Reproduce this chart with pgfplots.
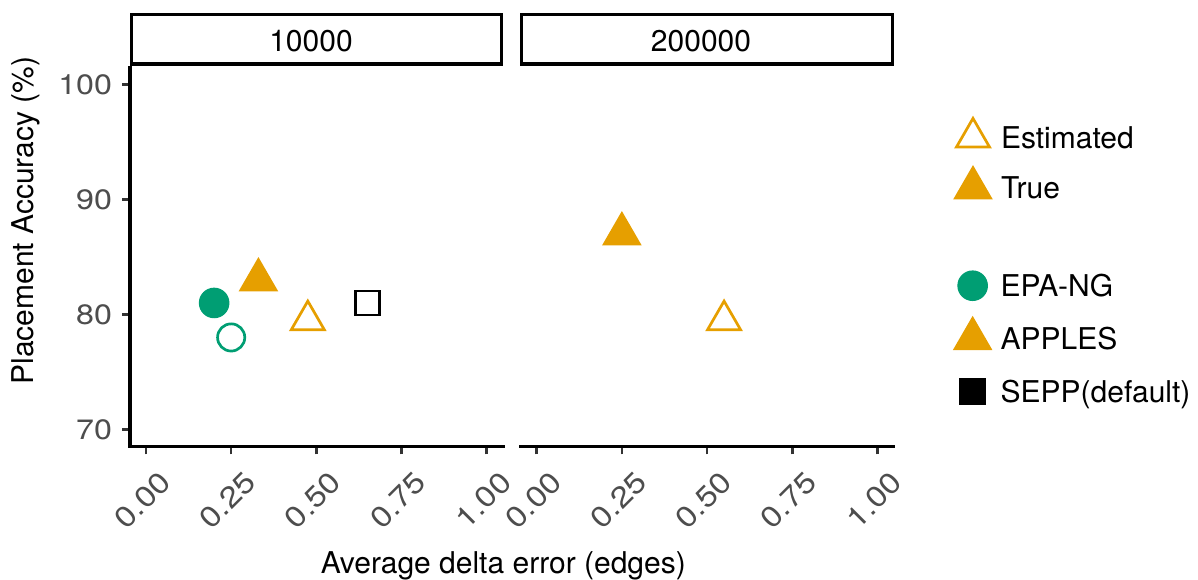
\documentclass[border=0pt]{standalone}
\usepackage{fontspec}
\setmainfont{TeX Gyre Heros}
\newfontfamily\tickfont{TeX Gyre Heros}[FakeStretch=1.15]
\usepackage{pgfplots}
\pgfplotsset{compat=1.18}

\definecolor{epagreen}{HTML}{009E73}
\definecolor{applesorange}{HTML}{E69F00}
\definecolor{ticktext}{HTML}{4D4D4D}
\definecolor{tickline}{HTML}{333333}

\pgfplotsset{
  facet/.style={
    scale only axis,
    width=186.5pt, height=189.75pt,
    xmin=-0.047, xmax=1.048,
    ymin=68.5, ymax=101.5,
    clip=false,
    axis line style={line width=1.6pt, black, line cap=rect},
    tick align=outside,
    major tick length=3.8pt,
    tick style={line width=1.3pt, color=tickline},
    xtick={0,0.25,0.5,0.75,1},
    xticklabels={0.00,0.25,0.50,0.75,1.00},
    xticklabel style={xshift=6pt, yshift=-6pt, rotate=45, anchor=north east,
      inner sep=1pt, font=\tickfont\fontsize{14.5}{16}\selectfont, text=ticktext},
    legend cell align=left,
    legend style={draw=none, fill=none, inner sep=0pt, outer sep=0pt,
      column sep=7pt, font=\fontsize{15}{18}\selectfont,
      nodes={inner sep=0pt, text height=10.7pt, text depth=0pt}},
  },
  % legend key: mark centred in a fixed 14pt box
  lgmark/.style={legend image code/.code={
      \path[draw=none, fill=none] (-7pt,-7pt) rectangle (7pt,7pt);
      \draw[overlay,##1] plot coordinates {(0pt,0pt)};}},
  estcircle/.style={only marks, mark=o, color=epagreen, mark size=6.8pt,
    line width=1.35pt, mark options={line width=1.35pt}},
  truecircle/.style={only marks, mark=*, color=epagreen, mark size=7.35pt,
    line width=0.6pt, mark options={line width=0.6pt}},
  esttri/.style={only marks, mark=triangle, color=applesorange, mark size=9.55pt,
    line width=1.35pt, mark options={line width=1.35pt}},
  truetri/.style={only marks, mark=triangle*, color=applesorange, mark size=10.75pt,
    line width=0.7pt, mark options={line width=0.7pt}},
  estsquare/.style={only marks, mark=square, color=black, mark size=6pt,
    line width=1.35pt, mark options={line width=1.35pt}},
  truesquare/.style={only marks, mark=square*, color=black, mark size=6.5pt,
    line width=0.6pt, mark options={line width=0.6pt}},
}

\begin{document}
\begin{tikzpicture}
\useasboundingbox (0,0) rectangle (599pt,289.5pt);

% ---- facet: 10000 ----
\begin{axis}[facet,
  at={(65pt,66.15pt)}, anchor=south west,
  axis x line*=bottom, axis y line*=left,
  ytick={70,80,90,100},
  yticklabels={70,80,90,100},
  yticklabel style={xshift=-5pt, anchor=east, inner sep=0pt,
    font=\tickfont\fontsize{14}{16}\selectfont, text=ticktext},
  legend style={at={(axis description cs:2.2225,0.8517)}, anchor=north west,
    row sep=11.25pt},
]
\addlegendimage{esttri, lgmark}
\addlegendentry{Estimated}
\addlegendimage{truetri, lgmark}
\addlegendentry{True}

\addplot[estsquare, forget plot] coordinates {(0.65,81.0)};
\addplot[estcircle, forget plot] coordinates {(0.25,78.0)};
\addplot[truecircle, forget plot] coordinates {(0.20,81.0)};
\addplot[esttri, forget plot] coordinates {(0.475,79.5)};
\addplot[truetri, forget plot] coordinates {(0.33,83.0)};
\end{axis}

% ---- facet: 200000 ----
\begin{axis}[facet,
  at={(260.35pt,66.15pt)}, anchor=south west,
  axis x line*=bottom, axis y line=none,
  ytick=\empty,
  legend style={at={(axis description cs:1.1741,0.4611)}, anchor=north west,
    row sep=12.5pt},
]
\addlegendimage{truecircle, lgmark}
\addlegendentry{EPA-NG}
\addlegendimage{truetri, lgmark}
\addlegendentry{APPLES}
\addlegendimage{truesquare, lgmark}
\addlegendentry{SEPP(default)}

\addplot[esttri, forget plot] coordinates {(0.55,79.5)};
\addplot[truetri, forget plot] coordinates {(0.25,87.0)};
\end{axis}

% facet strips
\draw[line width=1.6pt] (65.8pt,257.45pt) rectangle (250.8pt,282.35pt);
\draw[line width=1.6pt] (260.8pt,257.45pt) rectangle (446.2pt,282.35pt);
\node[anchor=base, inner sep=0pt, font=\fontsize{15}{18}\selectfont]
  at (155.5pt,263.65pt) {10000};
\node[anchor=base, inner sep=0pt, font=\fontsize{15}{18}\selectfont]
  at (350.5pt,263.65pt) {200000};

% axis titles
\node[anchor=base, inner sep=0pt, font=\fontsize{15}{18}\selectfont]
  at (251.65pt,2.85pt) {Average delta error (edges)};
\node[rotate=90, anchor=base, inner sep=0pt, font=\fontsize{15}{18}\selectfont]
  at (16.65pt,179.25pt) {Placement Accuracy (\%)};
\end{tikzpicture}
\end{document}
